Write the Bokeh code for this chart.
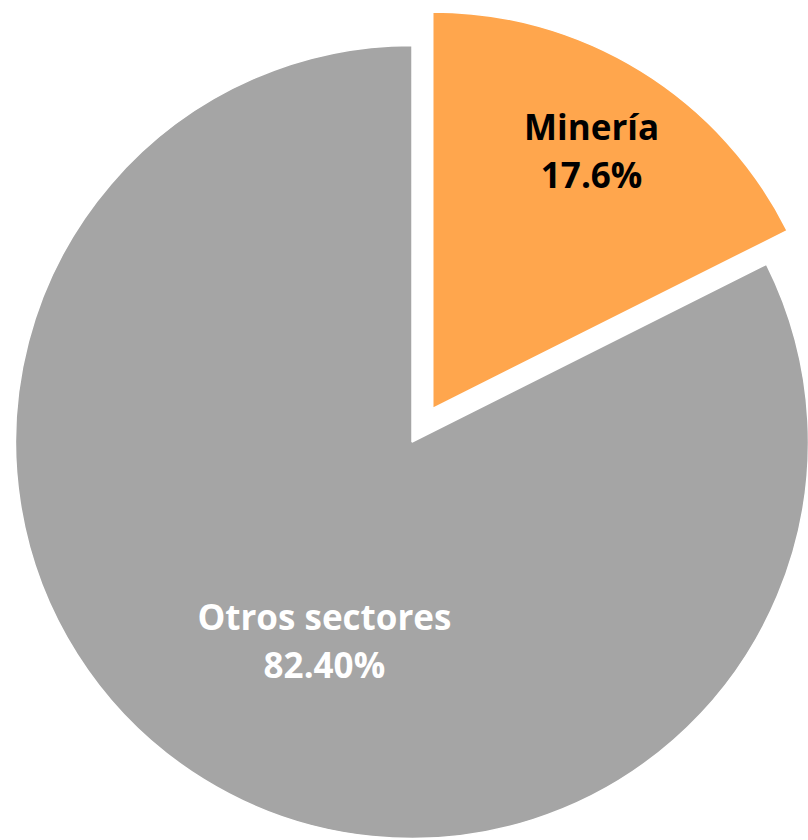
import math
from bokeh.plotting import figure
from bokeh.models import ColumnDataSource, Range1d
from bokeh.core.properties import value
from bokeh.embed import file_html
from bokeh.resources import INLINE

# ---- data ----
categories = ["Minería", "Otros sectores"]
shares = [17.6, 82.40]
pct_labels = ["17.6%", "82.40%"]

# ---- style ----
colors = ["#FFA64D", "#A5A5A5"]
text_colors = ["#000000", "#FFFFFF"]
explode = [39.5, 0.0]            # px pulled out along mid-angle
label_frac = [0.763, 0.548]      # label distance as fraction of radius
label_shift_deg = [0.0, -7.9]    # small angular shift of label anchor
W, H = 808, 840
CX, CY, R = 411.5, H - 441.5, 396.5
LINE_GAP = 24

total = sum(shares)
xs, ys, starts, ends = [], [], [], []
lx, ly = [], []
cum = 0.0
for i, s in enumerate(shares):
    a0 = math.pi / 2 - 2 * math.pi * cum / total
    cum += s
    a1 = math.pi / 2 - 2 * math.pi * cum / total
    mid = (a0 + a1) / 2
    cx = CX + explode[i] * math.cos(mid)
    cy = CY + explode[i] * math.sin(mid)
    xs.append(cx); ys.append(cy); starts.append(a0); ends.append(a1)
    la = mid - math.radians(label_shift_deg[i])
    lx.append(cx + label_frac[i] * R * math.cos(la))
    ly.append(cy + label_frac[i] * R * math.sin(la))

src = ColumnDataSource(dict(x=xs, y=ys, start=starts, end=ends, color=colors))

p = figure(width=W, height=H, x_range=Range1d(0, W), y_range=Range1d(0, H),
           output_backend="svg", toolbar_location=None, min_border=0)
p.axis.visible = False
p.xgrid.visible = False
p.ygrid.visible = False
p.outline_line_color = None
p.background_fill_color = "white"
p.border_fill_color = "white"

p.wedge(x="x", y="y", radius=R, start_angle="start", end_angle="end",
        direction="clock", fill_color="color", line_color="white",
        line_width=1.5, source=src)

name_src = ColumnDataSource(dict(x=lx, y=[v + LINE_GAP for v in ly],
                                 t=categories, c=text_colors))
pct_src = ColumnDataSource(dict(x=lx, y=[v - LINE_GAP for v in ly],
                                t=pct_labels, c=text_colors))
for s in (name_src, pct_src):
    p.text(x="x", y="y", text="t", text_color="c", source=s,
           text_align="center", text_baseline="middle",
           text_font=value("Open Sans"), text_font_style="bold",
           text_font_size="35px")

open("out.html", "w").write(file_html(p, INLINE))
